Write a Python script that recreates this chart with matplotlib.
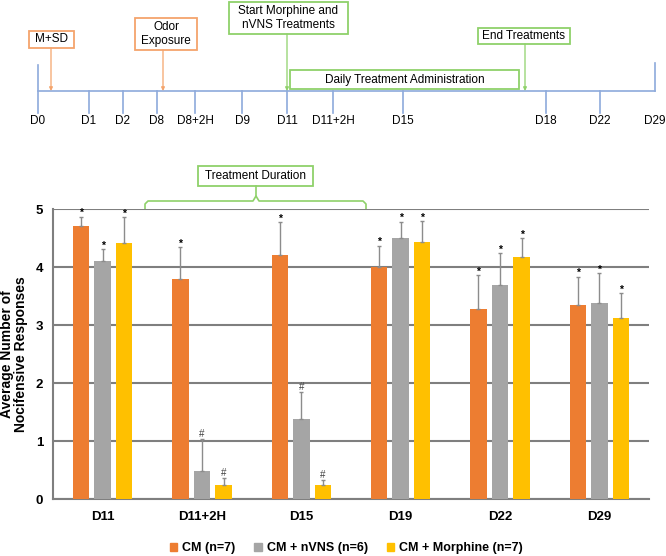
import numpy as np
import matplotlib
matplotlib.use("Agg")
import matplotlib.pyplot as plt
from matplotlib.patches import Patch, Rectangle

plt.rcParams['font.family'] = ['Liberation Sans', 'DejaVu Sans']

# bar chart data
days = ['D11', 'D11+2H', 'D15', 'D19', 'D22', 'D29']
groups = ['CM (n=7)', 'CM + nVNS (n=6)', 'CM + Morphine (n=7)']
cm = [4.71, 3.79, 4.21, 4.00, 3.28, 3.35]
cm_err = [0.16, 0.55, 0.56, 0.37, 0.58, 0.48]
nvns = [4.10, 0.49, 1.38, 4.50, 3.69, 3.38]
nvns_err = [0.21, 0.54, 0.47, 0.28, 0.55, 0.51]
morph = [4.41, 0.24, 0.24, 4.43, 4.18, 3.12]
morph_err = [0.45, 0.13, 0.09, 0.36, 0.32, 0.43]
cm_mark = ['*', '*', '*', '*', '*', '*']
nvns_mark = ['*', '#', '#', '*', '*', '*']
morph_mark = ['*', '#', '#', '*', '*', '*']

# timeline
tl_labels = ['D0', 'D1', 'D2', 'D8', 'D8+2H', 'D9', 'D11', 'D11+2H', 'D15', 'D18', 'D22', 'D29']
tl_pos = [37.7, 89, 123, 157, 195, 242, 287, 333, 403, 546, 600, 655]

colors = ['#ED7D31', '#A5A5A5', '#FFC000']
blue = '#8EAADB'
orange_l = '#F4A46C'
green = '#8FD16A'

fig = plt.figure(figsize=(6.66, 5.56), dpi=100)

# overlay axes in pixel units for the timeline and boxes
ov = fig.add_axes([0, 0, 1, 1])
ov.set_xlim(0, 666)
ov.set_ylim(556, 0)
ov.axis('off')

ly = 91
ov.plot([tl_pos[0], tl_pos[-1]], [ly, ly], color=blue, lw=1.2)
for lab, x in zip(tl_labels, tl_pos):
    if lab == 'D0':
        ov.plot([x, x], [65, 113], color=blue, lw=1.2)
    elif lab == 'D29':
        ov.plot([x, x], [63, ly], color=blue, lw=1.2)
    else:
        ov.plot([x, x], [ly, 113], color=blue, lw=1.2)
    ov.text(x, 121, lab, ha='center', va='center', fontsize=8.5)

def box(x0, y0, x1, y1, text, ec):
    ov.add_patch(Rectangle((x0, y0), x1 - x0, y1 - y0, fill=False, ec=ec, lw=1.3))
    ov.text((x0 + x1) / 2, (y0 + y1) / 2, text, ha='center', va='center',
            fontsize=8.5, linespacing=1.25)

def arrow(x, y0, c):
    ov.annotate('', xy=(x, ly), xytext=(x, y0),
                arrowprops=dict(arrowstyle='-|>', color=c, lw=0.9,
                                mutation_scale=5, shrinkA=0, shrinkB=0))

box(29, 31, 74, 48, 'M+SD', orange_l)
arrow(51, 48, orange_l)
box(135, 18, 197, 50, 'Odor\nExposure', orange_l)
arrow(163, 50, orange_l)
box(229, 2, 348, 34, 'Start Morphine and\nnVNS Treatments', green)
arrow(287, 34, green)
box(478, 28, 570, 44, 'End Treatments', green)
arrow(525, 44, green)
box(290, 70, 519, 89, 'Daily Treatment Administration', green)

box(198, 166, 313, 186, 'Treatment Duration', green)
ov.plot([145, 145, 148, 253, 256, 259, 363, 366, 366],
        [209, 204, 201, 201, 196, 201, 201, 204, 209], color=green, lw=1.2)
ov.plot([256, 256], [186, 196], color=green, lw=1.2)

# main bar chart
ax = fig.add_axes([53 / 666, 57 / 556, 596 / 666, 290 / 556])
x = np.arange(len(days)) + 0.5
w = 0.166
off = 0.217
series = [(cm, cm_err, cm_mark), (nvns, nvns_err, nvns_mark), (morph, morph_err, morph_mark)]
for i, (vals, errs, marks) in enumerate(series):
    xs = x + (i - 1) * off
    ax.bar(xs, vals, w, color=colors[i], zorder=3)
    ax.errorbar(xs, vals, yerr=[np.zeros(len(vals)), errs], fmt='none',
                ecolor='#8C8C8C', elinewidth=1, capsize=1.5, capthick=1, zorder=4)
    for xx, v, e, m in zip(xs, vals, errs, marks):
        if m == '*':
            ax.annotate(m, (xx, v + e), xytext=(0, -1), textcoords='offset points',
                        ha='center', va='bottom', fontsize=7.5, fontweight='bold')
        else:
            ax.annotate(m, (xx, v + e), xytext=(0, 0), textcoords='offset points',
                        ha='center', va='bottom', fontsize=7, color='#404040')

ax.set_xlim(0, 6)
ax.set_ylim(0, 5)
ax.set_yticks([0, 1, 2, 3, 4, 5])
ax.set_xticks(x)
ax.set_xticklabels(days)
ax.yaxis.grid(True, color='#7F7F7F', lw=1.5, zorder=0)
ax.set_axisbelow(True)
for s in ['top', 'right']:
    ax.spines[s].set_visible(False)
for s in ['left', 'bottom']:
    ax.spines[s].set_color('#7F7F7F')
    ax.spines[s].set_linewidth(1.5)
ax.tick_params(length=0, labelsize=9.5)
ax.tick_params(axis='x', pad=9)
ax.tick_params(axis='y', pad=7)
for t in ax.get_xticklabels() + ax.get_yticklabels():
    t.set_fontweight('bold')
ax.set_ylabel('Average Number of\nNocifensive Responses', fontsize=10,
              fontweight='bold', linespacing=1.0)
ax.yaxis.set_label_coords(-0.042, 0.5)

handles = [Patch(color=c) for c in colors]
fig.legend(handles, groups, loc='center', bbox_to_anchor=(0.52, 8 / 556),
           ncol=3, frameon=False, handlelength=0.6, handleheight=0.6,
           handletextpad=0.4, columnspacing=1.5,
           prop={'weight': 'bold', 'size': 9})

fig.savefig('out.png', dpi=100)
